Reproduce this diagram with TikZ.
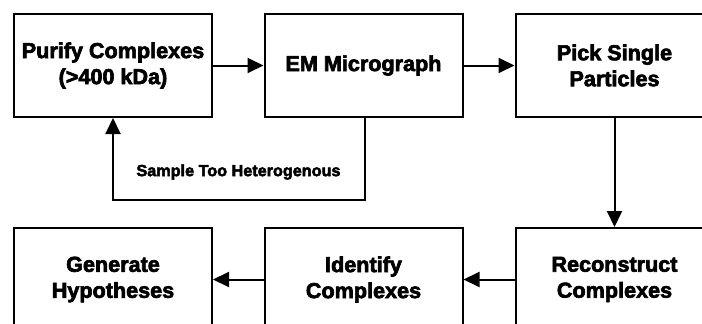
\documentclass[tikz,border=0pt]{standalone}
\usepackage{fontspec}
\newfontfamily\heavyfont{Liberation Sans Bold}[FakeBold=3]
\usetikzlibrary{arrows.meta}
\begin{document}
\begin{tikzpicture}[x=1pt,y=-1pt,
  stepbox/.style={draw=black,line width=2pt,minimum width=198pt,minimum height=103pt,inner sep=0pt,
    align=center,font=\heavyfont\fontsize{21.6}{26}\selectfont},
  conn/.style={line width=2pt,-{Triangle[length=16pt,width=15pt]}},
  lbl/.style={font=\heavyfont\fontsize{16.2}{19}\selectfont}]
\useasboundingbox (0,0) rectangle (702,324);
\begin{scope}
\clip (0,0) rectangle (702,324);
\node[stepbox] (purify) at (113,65.5) {Purify Complexes\\(>400 kDa)};
\node[stepbox] (em) at (363.5,65.5) {EM Micrograph};
\node[stepbox] (pick) at (614.5,65.5) {Pick Single\\Particles};
\node[stepbox] (gen) at (113,279.5) {Generate\\Hypotheses};
\node[stepbox] (ident) at (363.5,279.5) {Identify\\Complexes};
\node[stepbox] (recon) at (614.5,279.5) {Reconstruct\\Complexes};
\end{scope}
\draw[conn] (purify) -- (em);
\draw[conn] (em) -- (pick);
\draw[conn] (pick) -- (recon);
\draw[conn] (recon) -- (ident);
\draw[conn] (ident) -- (gen);
\coordinate (c1) at (365,200);
\coordinate (c2) at (113,200);
\draw[conn] (em.south -| c1) -- (c1) -- (c2) -- (purify.south -| c2);
\node[lbl] (sample) at (238.5,172) {Sample Too Heterogenous};
\end{tikzpicture}
\end{document}
